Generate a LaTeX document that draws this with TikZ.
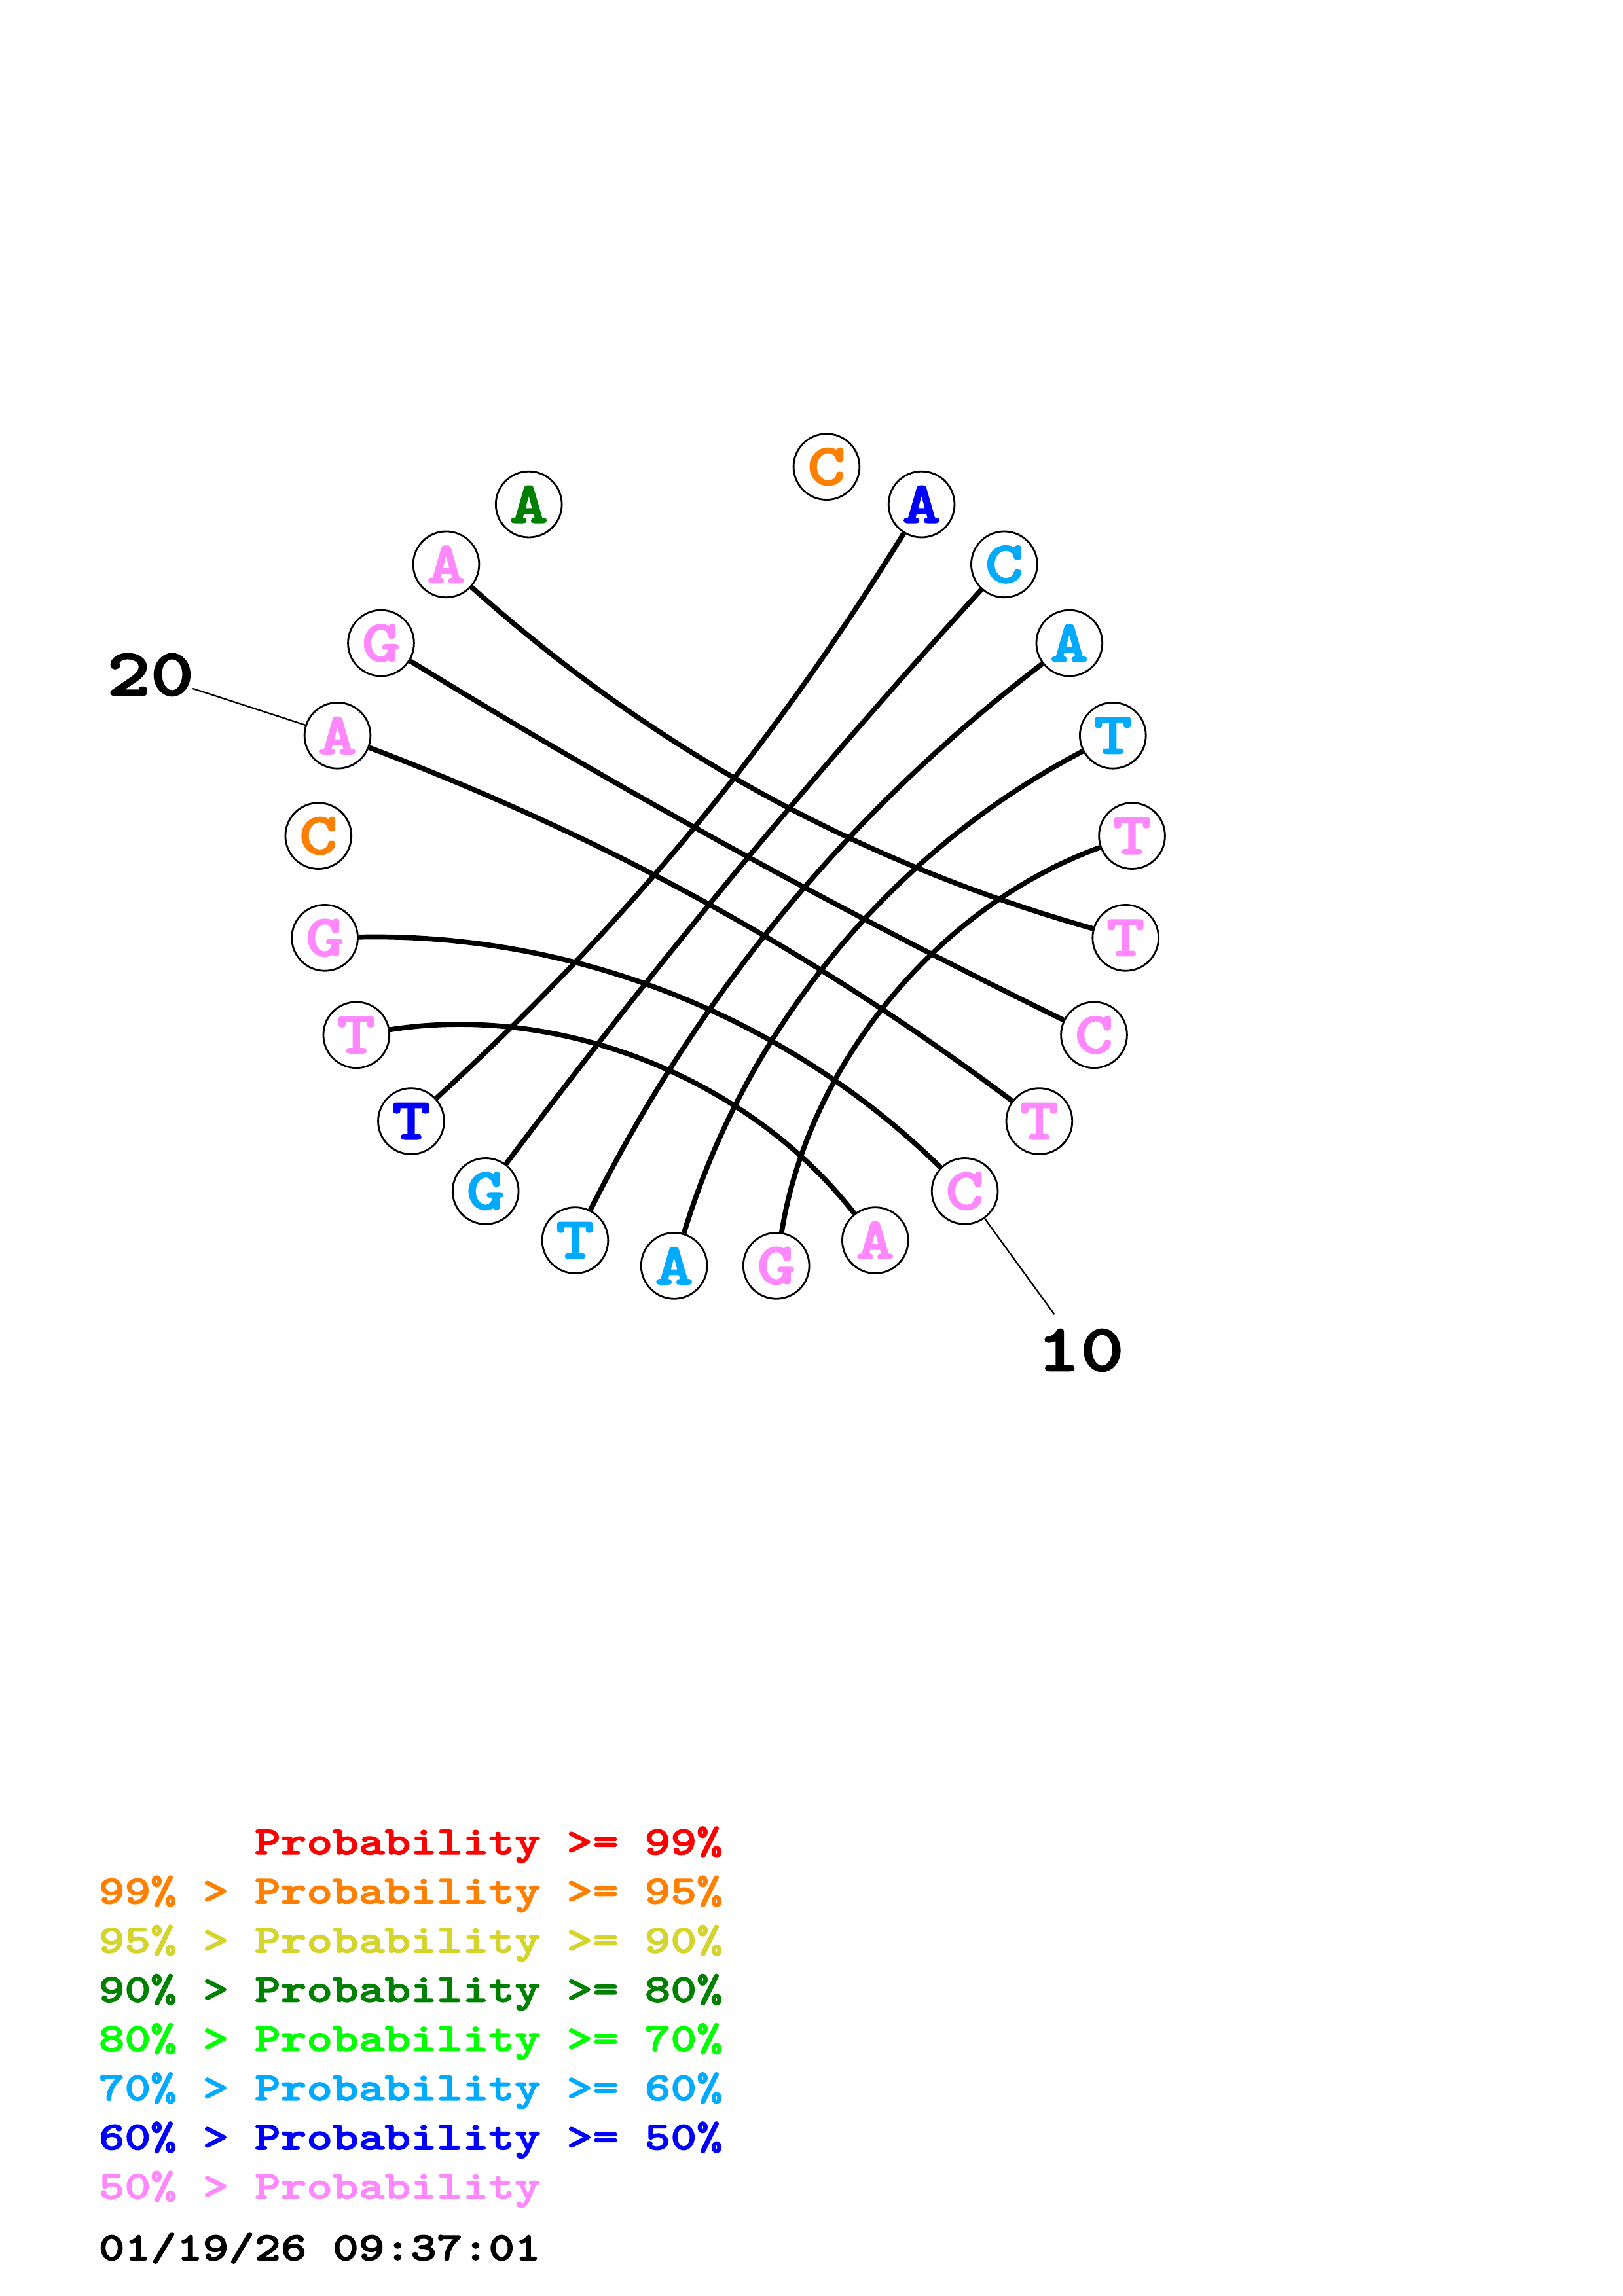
\documentclass[tikz,border=0pt]{standalone}
\usepackage{fontspec}
\newfontfamily\cour[FakeStretch=1.24,FakeBold=2.2]{lmmonolt10-bold.otf}
\usetikzlibrary{calc}
\pgfdeclarelayer{bg}
\pgfsetlayers{bg,main}
\definecolor{pr}{RGB}{255,0,0}
\definecolor{po}{RGB}{255,128,0}
\definecolor{py}{RGB}{212,212,42}
\definecolor{pdg}{RGB}{0,128,0}
\definecolor{pg}{RGB}{0,255,0}
\definecolor{plb}{RGB}{0,170,255}
\definecolor{pb}{RGB}{0,0,255}
\definecolor{pp}{RGB}{255,136,255}
\begin{document}
\begin{tikzpicture}[x=0.53726pt,y=-0.53726pt,
  base/.style={circle,draw=black,line width=0.68pt,fill=white,minimum size=24.2pt,inner sep=0pt,
    font=\cour\fontsize{21.6}{21.6}\selectfont},
  pair/.style={line width=1.85pt,looseness=0.88},
  leader/.style={line width=0.56pt},
  numlab/.style={inner sep=0pt,font=\cour\fontsize{24.5}{24.5}\selectfont},
  leg/.style={anchor=base west,inner sep=0pt,font=\cour\fontsize{14.65}{14.65}\selectfont}]
\useasboundingbox (0,0) rectangle (1108,1568);
\coordinate (O) at (495.1,588.3);
\foreach \k/\b/\c in {1/C/po,2/A/pb,3/C/plb,4/A/plb,5/T/plb,6/T/pp,7/T/pp,8/C/pp,9/T/pp,10/C/pp,
  11/A/pp,12/G/pp,13/A/plb,14/T/plb,15/G/plb,16/T/pb,17/T/pp,18/G/pp,19/C/po,20/A/pp,
  21/G/pp,22/A/pp,23/A/pdg}{
  \node[base,text=\c] (n\k) at ($(O)+({(\k-1)*14.4-75.6}:278.3)$) {\b};
}
\begin{pgfonlayer}{bg}
\draw[pair] (n2) to[bend left=8] (n16);
\draw[pair] (n15) to[bend left=2.7] (n3);
\draw[pair] (n14) to[bend left=13] (n4);
\draw[pair] (n13) to[bend left=22.8] (n5);
\draw[pair] (n12) to[bend left=30.5] (n6);
\draw[pair] (n7) to[bend left=13] (n22);
\draw[pair] (n8) to[bend left=2.7] (n21);
\draw[pair] (n20) to[bend left=8] (n9);
\draw[pair] (n18) to[bend left=22.8] (n10);
\draw[pair] (n17) to[bend left=30.5] (n11);
\end{pgfonlayer}
% position labels
\coordinate (e20) at ($(O)!1.3737!(n20.center)$);
\coordinate (e10) at ($(O)!1.3737!(n10.center)$);
\node[numlab] (lab20) at ($(O)!1.48257!(n20.center)$) {20};
\node[numlab] (lab10) at ($(O)!1.48257!(n10.center)$) {10};
\draw[leader] (n20) -- (e20);
\draw[leader] (n10) -- (e10);
% legend
\node[leg,text=pr] (lg1) at (67,1266.3) {\phantom{99\% >} Probability >= 99\%};
\node[leg,text=po] (lg2) at (67,1299.9) {99\% > Probability >= 95\%};
\node[leg,text=py] (lg3) at (67,1333.5) {95\% > Probability >= 90\%};
\node[leg,text=pdg] (lg4) at (67,1367.1) {90\% > Probability >= 80\%};
\node[leg,text=pg] (lg5) at (67,1400.7) {80\% > Probability >= 70\%};
\node[leg,text=plb] (lg6) at (67,1434.3) {70\% > Probability >= 60\%};
\node[leg,text=pb] (lg7) at (67,1467.9) {60\% > Probability >= 50\%};
\node[leg,text=pp] (lg8) at (67,1501.5) {50\% > Probability};
\node[leg,text=black] (date) at (67,1543.5) {01/19/26 09:37:01};
\end{tikzpicture}
\end{document}
